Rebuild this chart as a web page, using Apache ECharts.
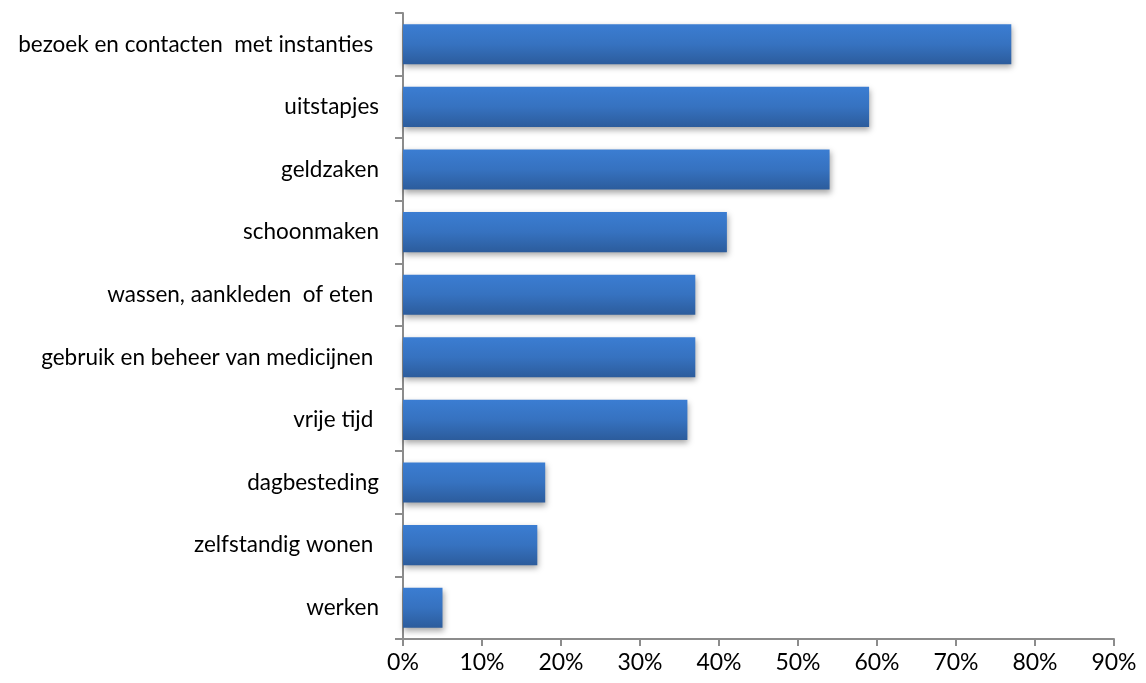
<!DOCTYPE html>
<html>
<head>
<meta charset="utf-8">
<script src="https://cdn.jsdelivr.net/npm/echarts@6/dist/echarts.min.js"></script>
<style>
  html, body { margin: 0; padding: 0; background: #fff; }
</style>
</head>
<body>
<div id="chart" style="width: 1146px; height: 683px"></div>
<script>
const categories = [
  'bezoek en contacten  met instanties ',
  'uitstapjes',
  'geldzaken',
  'schoonmaken',
  'wassen, aankleden  of eten ',
  'gebruik en beheer van medicijnen ',
  'vrije tijd ',
  'dagbesteding',
  'zelfstandig wonen ',
  'werken',
]
const values = [77, 59, 54, 41, 37, 37, 36, 18, 17, 5]
const xTicks = [0, 10, 20, 30, 40, 50, 60, 70, 80, 90]

const axisColor = '#8c8c8c'
const textColor = '#000'
const fontFamily = 'Lato, Open Sans, sans-serif'

const chart = echarts.init(document.getElementById('chart'))

const option = {
  animation: false,
  grid: {
    left: 403,
    right: 32,
    top: 13,
    bottom: 44,
  },
  xAxis: {
    type: 'value',
    min: xTicks[0],
    max: xTicks[xTicks.length - 1],
    interval: 10,
    axisLine: { show: true, lineStyle: { color: axisColor, width: 2 } },
    axisTick: { show: true, length: 7, lineStyle: { color: axisColor, width: 2 } },
    splitLine: { show: false },
    axisLabel: {
      color: textColor,
      fontSize: 23,
      fontFamily: fontFamily,
      margin: 12,
      formatter: v => v + '%',
    },
  },
  yAxis: {
    type: 'category',
    inverse: true,
    data: categories,
    axisLine: { show: true, lineStyle: { color: axisColor, width: 2 } },
    axisTick: { show: true, length: 8, lineStyle: { color: axisColor, width: 2 } },
    axisLabel: {
      color: textColor,
      fontSize: 22.5,
      fontFamily: fontFamily,
      margin: 24,
    },
  },
  series: [
    {
      type: 'bar',
      data: values,
      barCategoryGap: '36%',
      itemStyle: {
        color: new echarts.graphic.LinearGradient(0, 0, 0, 1, [
          { offset: 0, color: '#3b7dd2' },
          { offset: 0.5, color: '#3672c0' },
          { offset: 1, color: '#2c5c9c' },
        ]),
        shadowColor: 'rgba(0, 0, 0, 0.35)',
        shadowBlur: 6,
        shadowOffsetY: 3,
        shadowOffsetX: 1,
      },
    },
  ],
}

chart.setOption(option)
</script>
</body>
</html>
